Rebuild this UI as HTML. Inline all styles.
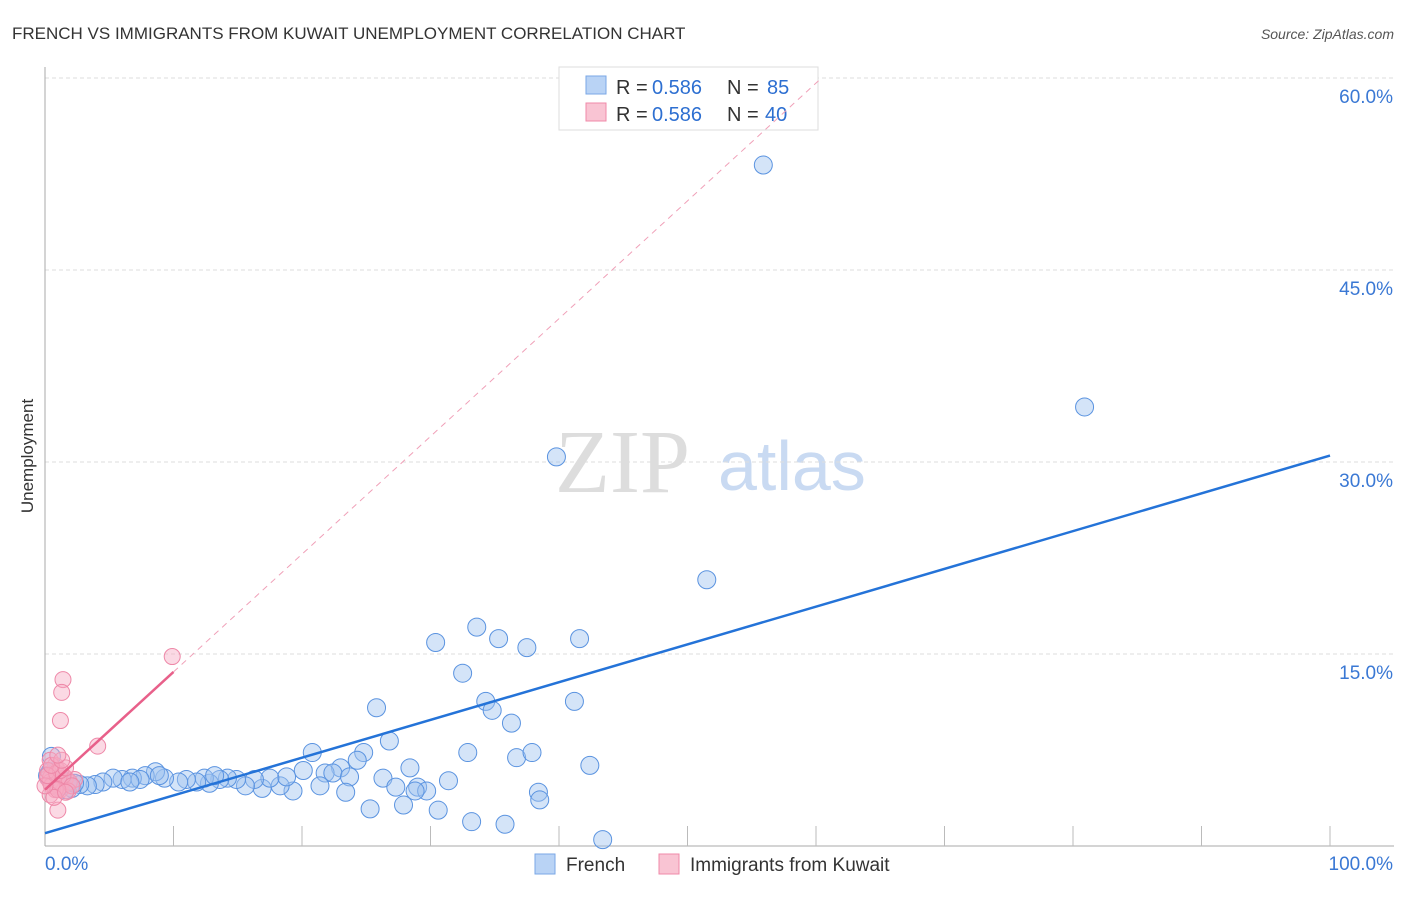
<!DOCTYPE html>
<html><head><meta charset="utf-8"><style>
body{margin:0;background:#fff;font-family:"Liberation Sans",sans-serif;}
</style></head><body>
<svg id="c" width="1406" height="892" xmlns="http://www.w3.org/2000/svg">
<text x="12" y="39" font-size="17" fill="#333">FRENCH VS IMMIGRANTS FROM KUWAIT UNEMPLOYMENT CORRELATION CHART</text>
<text x="1394" y="39" font-size="14" fill="#555" font-style="italic" text-anchor="end">Source: ZipAtlas.com</text>
<text transform="translate(33,456) rotate(-90)" font-size="17" fill="#333" text-anchor="middle">Unemployment</text>
<text x="555" y="492" font-size="90" fill="#ddd" font-family="Liberation Serif,serif">ZIP</text>
<text x="718" y="490" font-size="70" fill="#c9daf2">atlas</text>
<g id="grid"></g>
<g>
<rect x="559" y="67" width="259" height="63" fill="#fff" stroke="#ddd"/>
<rect x="586" y="76" width="20" height="18" fill="#b9d3f5" stroke="#7aa7e6"/>
<rect x="586" y="103" width="20" height="18" fill="#f9c4d3" stroke="#f08aa8"/>
<text x="616" y="94" font-size="20" fill="#333">R =</text><text x="652" y="94" font-size="20" fill="#2d6fd1">0.586</text>
<text x="727" y="94" font-size="20" fill="#333">N =</text><text x="767" y="94" font-size="20" fill="#2d6fd1">85</text>
<text x="616" y="121" font-size="20" fill="#333">R =</text><text x="652" y="121" font-size="20" fill="#2d6fd1">0.586</text>
<text x="727" y="121" font-size="20" fill="#333">N =</text><text x="765" y="121" font-size="20" fill="#2d6fd1">40</text>
</g>
<g id="pts"></g><g id="lines"></g>
<g>
<rect x="535" y="854" width="20" height="20" fill="#b9d3f5" stroke="#7aa7e6"/>
<text x="566" y="871" font-size="19" fill="#333">French</text>
<rect x="659" y="854" width="20" height="20" fill="#f9c4d3" stroke="#f08aa8"/>
<text x="690" y="871" font-size="19" fill="#333">Immigrants from Kuwait</text>
</g>
</svg>
<script>
const yTicks=[15,30,45,60];
const yTickLabels=["15.0%","30.0%","45.0%","60.0%"];
const xTickCount=10;
const frenchX=[55.9,80.9,39.8,51.5,30.4,33.6,35.3,37.5,41.6,32.5,34.3,34.8,36.3,41.2,25.8,26.8,20.8,24.8,32.9,36.7,37.9,42.4,24.3,23.0,20.1,21.8,22.4,23.7,26.3,28.4,31.4,29.0,29.7,27.3,28.8,38.4,38.5,21.4,23.4,25.3,27.9,30.6,33.2,35.8,43.4,19.3,18.3,16.9,18.8,17.5,16.3,15.6,14.9,14.2,13.6,12.8,12.4,11.8,11.0,10.4,9.3,8.6,7.8,6.8,6.0,5.3,4.5,3.9,3.3,2.7,2.1,1.6,1.2,0.8,0.5,0.4,0.2,0.9,1.3,1.8,2.3,7.4,6.6,8.9,13.2];
const frenchY=[53.2,34.3,30.4,20.8,15.9,17.1,16.2,15.5,16.2,13.5,11.3,10.6,9.6,11.3,10.8,8.2,7.3,7.3,7.3,6.9,7.3,6.3,6.7,6.1,5.9,5.7,5.7,5.4,5.3,6.1,5.1,4.6,4.3,4.6,4.3,4.2,3.6,4.7,4.2,2.9,3.2,2.8,1.9,1.7,0.5,4.3,4.7,4.5,5.4,5.3,5.2,4.7,5.2,5.3,5.2,4.9,5.3,5.0,5.2,5.0,5.3,5.8,5.5,5.3,5.2,5.3,5.0,4.8,4.7,4.8,4.5,4.4,4.7,5.2,7.0,5.8,5.5,5.0,5.2,5.0,4.9,5.2,5.0,5.5,5.5];
const kuwaitX=[9.9,1.4,1.3,1.2,4.1,1.0,0.8,0.4,0.5,0.2,0.8,1.2,0.4,0.6,0.9,1.2,1.3,1.6,1.0,0.4,1.9,2.3,0.5,0.2,0.9,1.4,1.8,2.1,0.8,0.4,1.0,1.2,1.6,0.7,0.0,0.2,0.5,1.3,1.0,1.6];
const kuwaitY=[14.8,13.0,12.0,9.8,7.8,5.9,6.3,6.7,5.5,5.3,5.0,4.7,5.3,4.9,4.6,4.4,5.0,5.3,2.8,5.0,5.0,5.2,4.7,5.9,5.7,5.5,4.3,4.7,4.4,4.0,4.4,5.9,6.1,3.8,4.7,5.5,6.3,6.7,7.1,4.2];
const frenchFit=[1.0,0.295];
const kuwaitFit=[4.4,0.92];
const X=v=>45+v*12.85, Y=v=>846-v*12.8;
const NS="http://www.w3.org/2000/svg";
function mk(t,a,p){const e=document.createElementNS(NS,t);for(const k in a)e.setAttribute(k,a[k]);p.appendChild(e);return e;}
const grid=document.getElementById('grid');
yTicks.forEach((v,i)=>{
 const l=mk('line',{x1:45,x2:1394,y1:Y(v),y2:Y(v),stroke:'#ddd','stroke-dasharray':'4,3'},grid);
 
 
 const t=mk('text',{x:1393,y:Y(v)+25,'font-size':19,fill:'#3a78d4','text-anchor':'end'},grid);t.textContent=yTickLabels[i];
 
 
});
const ax=mk('line',{x1:45,x2:45,y1:67,y2:846,stroke:'#aaa'},grid);


const bx=mk('line',{x1:45,x2:1394,y1:846,y2:846,stroke:'#aaa'},grid);


for(let i=1;i<=xTickCount;i++){const tk=mk('line',{x1:X(i*10),x2:X(i*10),y1:826,y2:846,stroke:'#bbb'},grid);
 
 }
const t0=mk('text',{x:45,y:870,'font-size':19,fill:'#3a78d4'},grid);t0.textContent='0.0%';


const t1=mk('text',{x:1393,y:870,'font-size':19,fill:'#3a78d4','text-anchor':'end'},grid);t1.textContent='100.0%';


const pts=document.getElementById('pts');
frenchX.forEach((x,i)=>{const c=mk('circle',{cx:X(x),cy:Y(frenchY[i]),r:9,fill:'rgba(160,196,240,0.45)',stroke:'#5a93e0','stroke-width':1},pts);
 
 });
kuwaitX.forEach((x,i)=>{const c=mk('circle',{cx:X(x),cy:Y(kuwaitY[i]),r:8,fill:'rgba(246,170,195,0.45)',stroke:'#ee88a8','stroke-width':1},pts);
 
 });
const L=document.getElementById('lines');
const fl=mk('line',{x1:X(0),y1:Y(frenchFit[0]),x2:X(100),y2:Y(frenchFit[0]+100*frenchFit[1]),stroke:'#2473d8','stroke-width':2.5},L);


const kd=mk('line',{x1:X(10),y1:Y(kuwaitFit[0]+10*kuwaitFit[1]),x2:X(60.2),y2:Y(kuwaitFit[0]+60.2*kuwaitFit[1]),stroke:'#f0a0b8','stroke-width':1,'stroke-dasharray':'6,5'},L);


const kl=mk('line',{x1:X(0),y1:Y(kuwaitFit[0]),x2:X(10),y2:Y(kuwaitFit[0]+10*kuwaitFit[1]),stroke:'#e8608a','stroke-width':2.5},L);


</script>
</body></html>
